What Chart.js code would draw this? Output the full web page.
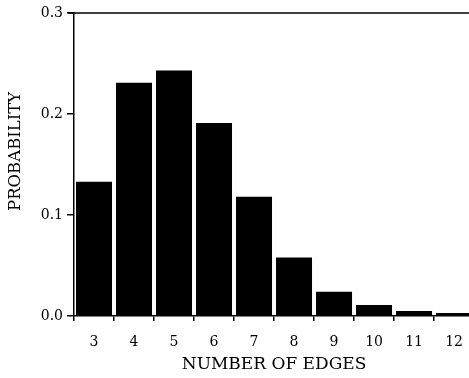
<!DOCTYPE html>
<html>
<head>
<meta charset="UTF-8">
<title>edges.html</title>
<style>
body{
	margin: 0;
	background-color: white;
	overflow: hidden;
}
#wrap{
	position: relative;
	width: 476px;
	height: 378px;
}
</style>
</head>
<body>
<div id="wrap">
	<canvas id="myChart"></canvas>
</div>
<script src="https://cdn.jsdelivr.net/npm/chart.js@4/dist/chart.umd.min.js"></script>
<script>
// 데이터
const edges = ['3','4','5','6','7','8','9','10','11','12'];
const probability = [0.133, 0.231, 0.243, 0.191, 0.118, 0.058, 0.024, 0.011, 0.005, 0.003];
const yTicks = [0.0, 0.1, 0.2, 0.3];

const serif = "'DejaVu Serif', 'Liberation Serif', serif";

// 위쪽 테두리 선
const topLine = {
	id: 'topLine',
	afterDraw(chart){
		const ctx = chart.ctx;
		const a = chart.chartArea;
		ctx.save();
		ctx.strokeStyle = '#000';
		ctx.lineWidth = 1.5;
		ctx.beginPath();
		ctx.moveTo(a.left - 6, a.top);
		ctx.lineTo(a.right, a.top);
		ctx.stroke();
		ctx.restore();
	}
};

const ctx = document.getElementById('myChart').getContext('2d');
const chart = new Chart(ctx,{
	type:'bar',
	data:{
		labels: edges,
		datasets:[{
			data: probability,
			backgroundColor: '#000',
			borderWidth: 0,
			barPercentage: 0.9,
			categoryPercentage: 1.0
		}]
	},
	options:{
		responsive: true,
		maintainAspectRatio: false,
		animation: false,
		layout:{ padding:{ top: 13, right: 1, left: 5, bottom: 0 } },
		plugins:{
			legend:{ display: false },
			tooltip:{ enabled: false }
		},
		scales:{
			x:{
				grid:{ display: true, drawOnChartArea: false, drawTicks: true, tickLength: 5, color: '#000', lineWidth: 1.5, offset: true },
				border:{ display: true, color: '#000', width: 1.5 },
				ticks:{ color: '#000', font:{ family: serif, size: 14 }, padding: 13, maxRotation: 0 },
				title:{ display: true, text: 'NUMBER OF EDGES', color: '#000', font:{ family: serif, size: 17 }, padding:{ top: 0, bottom: 3 } },
				afterFit(scale){ scale.height = 62; }
			},
			y:{
				min: 0,
				max: 0.3,
				afterBuildTicks(scale){ scale.ticks = yTicks.map(v => ({ value: v })); },
				grid:{ display: true, drawOnChartArea: false, drawTicks: true, tickLength: 7, color: '#000', lineWidth: 1.5 },
				border:{ display: true, color: '#000', width: 1.5 },
				ticks:{ color: '#000', font:{ family: serif, size: 14 }, padding: 4, callback: v => v.toFixed(1) },
				// 앞쪽 공백으로 제목을 조금 위로 올림
				title:{ display: true, text: '     PROBABILITY', color: '#000', font:{ family: serif, size: 16.5 }, padding:{ top: 1, bottom: 4 } },
				afterFit(scale){ scale.width = 69; }
			}
		}
	},
	plugins: [topLine]
});
</script>
</body>
</html>
